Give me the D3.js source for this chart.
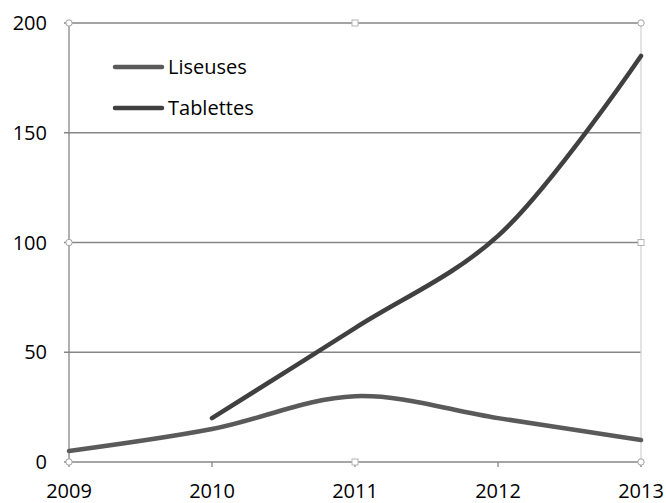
<!DOCTYPE html>
<html lang="fr">
<head>
    <meta charset="UTF-8">
    <title>Liseuses et tablettes</title>
    <script src="https://cdn.jsdelivr.net/npm/d3@7"></script>
    <style>
        body { margin: 0; background: #fff; }
        text { font-family: "Open Sans", "Liberation Sans", sans-serif; fill: #000; }
    </style>
</head>
<body>
<svg width="666" height="503"></svg>
<script>
    const years = [2009, 2010, 2011, 2012, 2013]
    const liseuses = [5, 15, 30, 20, 10]
    const tablettes = [null, 20, 61, 103, 185]
    const yTicks = [0, 50, 100, 150, 200]
    const seriesNames = ["Liseuses", "Tablettes"]
    const seriesColors = ["#5a5a5a", "#404040"]

    const margin = {top: 23, right: 25, bottom: 41, left: 69}
    const width = 666
    const height = 503

    const svg = d3.select("svg")

    const x = d3.scaleLinear()
        .domain(d3.extent(years))
        .range([margin.left, width - margin.right])
    const y = d3.scaleLinear()
        .domain([0, 200])
        .range([height - margin.bottom, margin.top])

    // gridlines
    svg.append("g")
        .selectAll("line")
        .data(yTicks.slice(1))
        .join("line")
        .attr("x1", margin.left - 5)
        .attr("x2", x(2013))
        .attr("y1", d => y(d))
        .attr("y2", d => y(d))
        .attr("stroke", "#868686")
        .attr("stroke-width", 1.3)

    // right border
    svg.append("line")
        .attr("x1", x(2013)).attr("x2", x(2013))
        .attr("y1", y(200)).attr("y2", y(0) + 5)
        .attr("stroke", "#d4d4d4").attr("stroke-width", 1.3)

    // y axis
    svg.append("line")
        .attr("x1", margin.left).attr("x2", margin.left)
        .attr("y1", y(200)).attr("y2", y(0))
        .attr("stroke", "#868686").attr("stroke-width", 1.3)
    svg.append("line")
        .attr("x1", margin.left - 5).attr("x2", x(2013))
        .attr("y1", y(0)).attr("y2", y(0))
        .attr("stroke", "#868686").attr("stroke-width", 1.3)

    // x ticks
    svg.append("g")
        .selectAll("line")
        .data(years)
        .join("line")
        .attr("x1", d => x(d)).attr("x2", d => x(d))
        .attr("y1", y(0)).attr("y2", y(0) + 5)
        .attr("stroke", "#868686").attr("stroke-width", 1.3)

    svg.append("g")
        .selectAll("text")
        .data(yTicks)
        .join("text")
        .attr("x", 47)
        .attr("y", d => y(d))
        .attr("dy", "0.35em")
        .attr("text-anchor", "end")
        .attr("font-size", 20)
        .text(d => d)

    svg.append("g")
        .selectAll("text")
        .data(years)
        .join("text")
        .attr("x", d => x(d))
        .attr("y", 498)
        .attr("text-anchor", "middle")
        .attr("font-size", 20)
        .text(d => d)

    // lines
    const line = d3.line()
        .x(d => x(d[0]))
        .y(d => y(d[1]))
        .curve(d3.curveCatmullRom.alpha(0.5))

    const series = [liseuses, tablettes].map(vals => years.map((yr, i) => [yr, vals[i]]).filter(d => d[1] != null))

    svg.append("g")
        .selectAll("path")
        .data(series)
        .join("path")
        .attr("d", line)
        .attr("fill", "none")
        .attr("stroke", (d, i) => seriesColors[i])
        .attr("stroke-width", 4.5)
        .attr("stroke-linecap", "round")

    // legend
    const legend = svg.append("g")
        .selectAll("g")
        .data(seriesNames)
        .join("g")
        .attr("transform", (d, i) => `translate(115,${67 + i * 41})`)
    legend.append("line")
        .attr("x1", 0).attr("x2", 47)
        .attr("stroke", (d, i) => seriesColors[i])
        .attr("stroke-width", 4.5)
        .attr("stroke-linecap", "round")
    legend.append("text")
        .attr("x", 53)
        .attr("dy", "0.35em")
        .attr("font-size", 20)
        .text(d => d)

    // selection handles
    const xm = (x(2009) + x(2013)) / 2, ym = (y(0) + y(200)) / 2
    const circles = [[x(2009), y(200)], [x(2013), y(200)], [x(2009), y(0)], [x(2013), y(0)], [x(2009), ym]]
    const squares = [[xm, y(200)], [x(2013), ym], [xm, y(0)]]
    svg.append("g").selectAll("circle")
        .data(circles).join("circle")
        .attr("cx", d => d[0]).attr("cy", d => d[1]).attr("r", 3.2)
        .attr("fill", "#fff").attr("stroke", "#a0a0a0").attr("stroke-width", 1)
    svg.append("g").selectAll("rect")
        .data(squares).join("rect")
        .attr("x", d => d[0] - 3).attr("y", d => d[1] - 3)
        .attr("width", 6).attr("height", 6)
        .attr("fill", "#fff").attr("stroke", "#b4b4b4").attr("stroke-width", 1)
</script>
</body>
</html>
